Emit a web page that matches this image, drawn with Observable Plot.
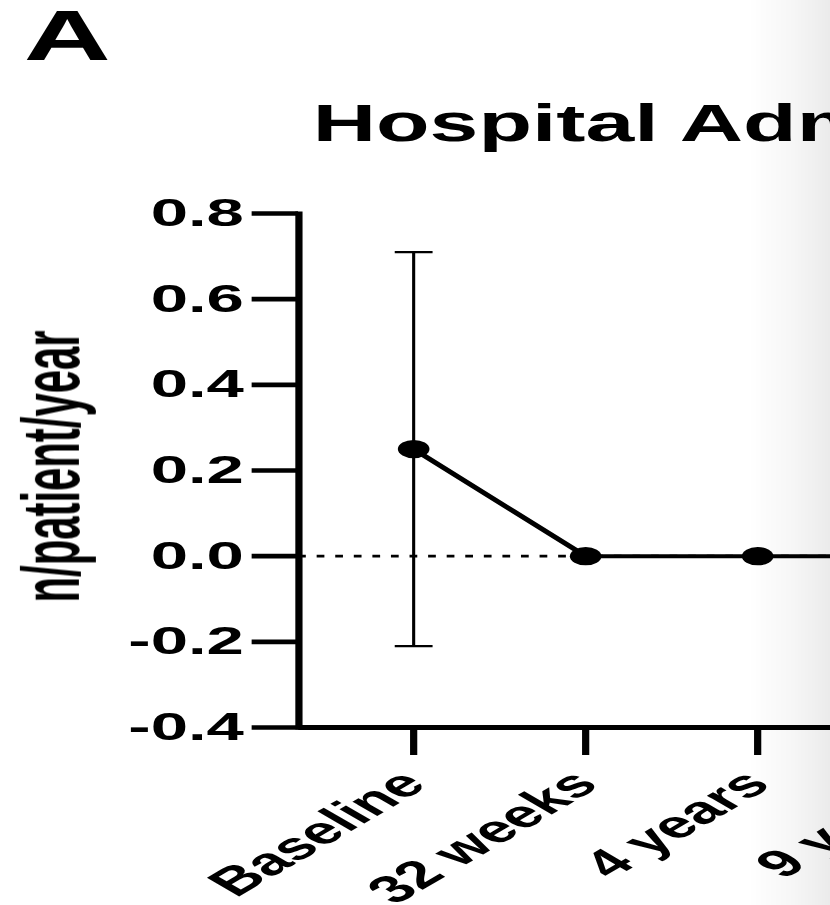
<!DOCTYPE html>
<html>
<head>
<meta charset="utf-8">
<script src="https://cdn.jsdelivr.net/npm/d3@7"></script>
<script src="https://cdn.jsdelivr.net/npm/@observablehq/plot@0.6"></script>
<style>
  html, body { margin: 0; padding: 0; background: #fff; width: 830px; height: 905px; overflow: hidden; }
  #wrap { position: absolute; left: 0; top: 0; transform: scaleX(1.72); transform-origin: 0 0; }
  #shade { position: absolute; left: 748px; top: 0; width: 82px; height: 905px;
           background: linear-gradient(to right, rgba(0,0,0,0) 0%, rgba(0,0,0,0.035) 55%, rgba(0,0,0,0.08) 100%); pointer-events: none; }
</style>
</head>
<body>
<div id="wrap"></div>
<div id="shade"></div>
<script>
// ---- data ----
const panelLabel = "A";
const title = "Hospital Admissions";
const yLabel = "n/patient/year";
const categories = ["Baseline", "32 weeks", "4 years", "9 years"];
const means = [0.25, 0, 0, 0];
const sds = [0.46, 0, 0, 0];
const yTicks = [-0.4, -0.2, 0.0, 0.2, 0.4, 0.6, 0.8];

const data = categories.map((c, i) => ({cat: c, mean: means[i], lo: means[i] - sds[i], hi: means[i] + sds[i], sd: sds[i]}));
const errData = data.filter(d => d.sd > 0);

const capSymbol = {
  draw(context, size) {
    const w = Math.sqrt(size / Math.PI);
    context.moveTo(-w, 0);
    context.lineTo(w, 0);
  }
};

const chart = Plot.plot({
  width: 640,
  height: 905,
  marginLeft: 173.3,
  marginRight: 33.4,
  marginTop: 213,
  marginBottom: 178,
  style: {fontFamily: "'Liberation Sans', Arial, Helvetica, sans-serif", background: "white", color: "black", overflow: "visible"},
  x: {type: "point", domain: categories, padding: 0.66},
  y: {domain: [yTicks[0], yTicks[yTicks.length - 1]]},
  marks: [
    Plot.ruleY([0], {strokeDasharray: "4.5,6.3", strokeWidth: 2.8, stroke: "black"}),
    Plot.ruleX(errData, {x: "cat", y1: "lo", y2: "hi", strokeWidth: 1.8, stroke: "black"}),
    Plot.dot(errData, {x: "cat", y: "hi", symbol: capSymbol, r: 11, stroke: "black", fill: "none", strokeWidth: 2.2}),
    Plot.dot(errData, {x: "cat", y: "lo", symbol: capSymbol, r: 11, stroke: "black", fill: "none", strokeWidth: 2.2}),
    Plot.line(data, {x: "cat", y: "mean", stroke: "black", strokeWidth: 4}),
    Plot.dot(data, {x: "cat", y: "mean", r: 9.2, fill: "black", stroke: "none"}),
    Plot.axisY({ticks: yTicks, tickSize: 27, tickPadding: 5, tickFormat: d => d.toFixed(1),
                fontSize: 39, fontWeight: "bold", strokeWidth: 4.6, label: null}),
    Plot.frame({anchor: "left", strokeWidth: 4.2, stroke: "black", strokeLinecap: "square"}),
    Plot.ruleY([yTicks[0]], {strokeWidth: 4.8, stroke: "black"}),
    Plot.axisX({tickSize: 28, tickRotate: -45, tickPadding: 22, fontSize: 38.5, fontWeight: "bold",
                strokeWidth: 4.2, label: null}),
    Plot.text([yLabel], {frameAnchor: "left", rotate: -90, dx: -143, dy: -4, textAnchor: "middle",
                         fontSize: 47, fontWeight: "bold", fill: "black"}),
    Plot.text([title], {frameAnchor: "top-left", dx: 8, dy: -73, lineAnchor: "bottom", textAnchor: "start",
                        fontSize: 51, fontWeight: "bold", fill: "black"}),
    Plot.text([panelLabel], {frameAnchor: "top-left", dx: -160, dy: -154, lineAnchor: "bottom", textAnchor: "start",
                             fontSize: 70, fontWeight: "bold", fill: "black"})
  ]
});
// condense the y-axis label to the reference's length
d3.select(chart).selectAll("text")
  .filter(function() { return this.textContent === yLabel; })
  .attr("textLength", 272)
  .attr("lengthAdjust", "spacingAndGlyphs");
document.getElementById("wrap").appendChild(chart);
</script>
</body>
</html>
